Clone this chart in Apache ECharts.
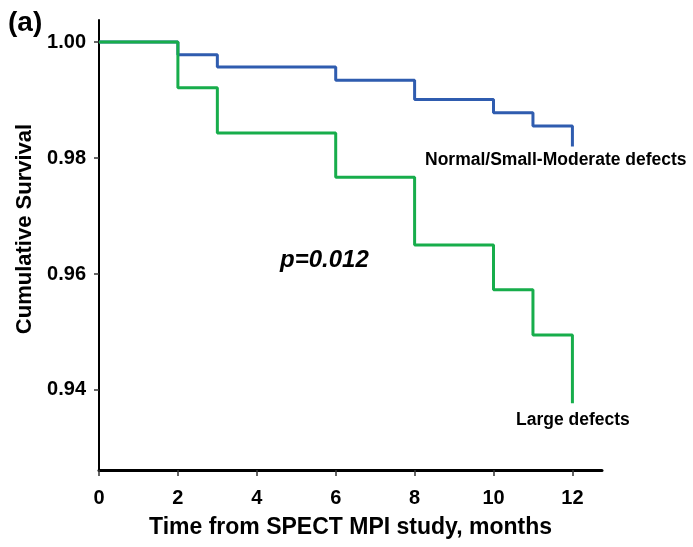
<!DOCTYPE html>
<html>
<head>
<meta charset="utf-8">
<script src="https://cdn.jsdelivr.net/npm/echarts@6/dist/echarts.min.js"></script>
<style>
  html, body { margin: 0; padding: 0; background: #fff; }
  #chart { width: 693px; height: 547px; }
</style>
</head>
<body>
<div id="chart"></div>
<script>
// Kaplan-Meier steps (months, cumulative survival)
var months = [0, 2, 3, 6, 8, 10, 11, 12]
var normalSurv = [1.0, 0.9978, 0.9957, 0.9934, 0.9901, 0.9878, 0.9855, 0.9820]
var largeSurv = [1.0, 0.9921, 0.9843, 0.9767, 0.9650, 0.9573, 0.9495, 0.9377]
var xTicks = [0, 2, 4, 6, 8, 10, 12]
var yTicks = [0.94, 0.96, 0.98, 1.00]

function pairs (xs, ys) {
  return xs.map(function (x, i) { return [x, ys[i]] })
}

var font = 'Liberation Sans, Arial, sans-serif'
var myChart = echarts.init(document.getElementById('chart'))
var option = {
  animation: false,
  backgroundColor: '#fff',
  title: {
    text: '(a)',
    left: 3,
    top: 4,
    textStyle: { fontFamily: font, fontSize: 28, fontWeight: 'bold', color: '#000' }
  },
  grid: { left: 99, right: 91, top: 20, bottom: 77 },
  xAxis: {
    type: 'value',
    min: 0,
    max: 12.75,
    interval: 2,
    name: 'Time from SPECT MPI study, months',
    nameLocation: 'middle',
    nameGap: 46,
    nameTextStyle: { fontFamily: font, fontSize: 23, fontWeight: 'bold', color: '#000' },
    axisLine: { onZero: false, lineStyle: { color: '#000', width: 3 } },
    axisTick: { customValues: xTicks, length: 6, lineStyle: { color: '#333', width: 1.5 } },
    axisLabel: {
      customValues: xTicks,
      margin: 18,
      fontFamily: font, fontSize: 20, fontWeight: 'bold', color: '#000'
    },
    splitLine: { show: false }
  },
  yAxis: {
    type: 'value',
    min: 0.9262,
    max: 1.0038,
    axisLine: { show: true, onZero: false, lineStyle: { color: '#000', width: 2 } },
    axisTick: { show: true, customValues: yTicks, length: 5, lineStyle: { color: '#333', width: 1.5 } },
    axisLabel: {
      customValues: yTicks,
      margin: 13,
      fontFamily: font, fontSize: 20, fontWeight: 'bold', color: '#000',
      formatter: function (v) { return v.toFixed(2) }
    },
    splitLine: { show: false }
  },
  series: [
    {
      name: 'Normal/Small-Moderate defects',
      type: 'line',
      step: 'end',
      symbol: 'none',
      data: pairs(months, normalSurv),
      lineStyle: { color: '#2f5caf', width: 3 },
      z: 3
    },
    {
      name: 'Large defects',
      type: 'line',
      step: 'end',
      symbol: 'none',
      data: pairs(months, largeSurv),
      lineStyle: { color: '#17ad4b', width: 3 },
      z: 4
    }
  ],
  graphic: [
    {
      type: 'text', x: 25, y: 229, rotation: Math.PI / 2,
      style: {
        text: 'Cumulative Survival', font: 'bold 22px ' + font, fill: '#000',
        align: 'center', verticalAlign: 'middle'
      }
    },
    {
      type: 'text', left: 425, top: 151,
      style: { text: 'Normal/Small-Moderate defects', font: 'bold 17.5px ' + font, fill: '#000' }
    },
    {
      type: 'text', left: 516, top: 411,
      style: { text: 'Large defects', font: 'bold 17.5px ' + font, fill: '#000' }
    },
    {
      type: 'text', left: 280, top: 248,
      style: { text: 'p=0.012', font: 'italic bold 24px ' + font, fill: '#000' }
    }
  ]
}
myChart.setOption(option, true)
</script>
</body>
</html>
